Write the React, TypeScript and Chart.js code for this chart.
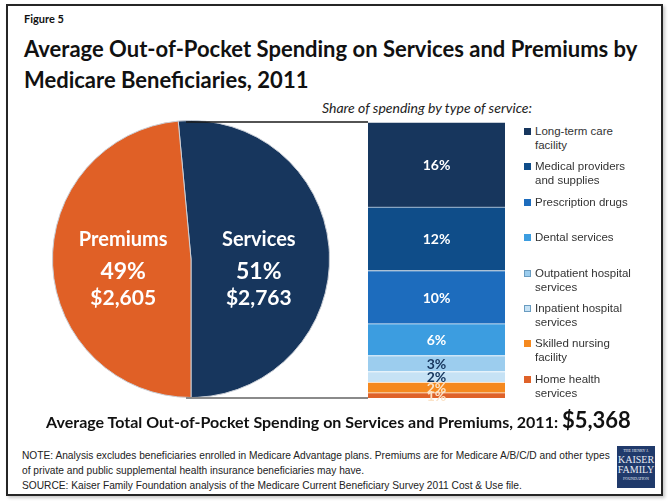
import React, { useEffect, useRef } from "react";
import { Chart, registerables } from "chart.js";

Chart.register(...registerables);

// ---- data ----
const pieLabels = ["Services", "Premiums"];
const pieDollars = [2763, 2605];
const piePercents = ["51%", "49%"];
const pieColors = ["#17365d", "#e06026"];

// stacked bar, listed top to bottom as in legend
const serviceTypes = [
  ["Long-term care", "facility"],
  ["Medical providers", "and supplies"],
  ["Prescription drugs"],
  ["Dental services"],
  ["Outpatient hospital", "services"],
  ["Inpatient hospital", "services"],
  ["Skilled nursing", "facility"],
  ["Home health", "services"],
];
const serviceShares = [16, 12, 10, 6, 3, 2, 2, 1];
const serviceColors = ["#17365d", "#0f4d89", "#1d6cbd", "#3c9de0", "#9ccdee", "#c6e2f5", "#f5891f", "#df6229"];
const labelColors = ["#ffffff", "#ffffff", "#ffffff", "#ffffff", "#17365d", "#17365d", "#fbe3c8", "#fbe3c8"];

const totalLabel = "$5,368";

const FONT = "Lato, 'Liberation Sans', sans-serif";

function PieChart() {
  const ref = useRef<HTMLCanvasElement>(null);
  useEffect(() => {
    const total = pieDollars.reduce((a, b) => a + b, 0);
    const servicesShare = pieDollars[0] / total;
    const rotation = -((servicesShare - 0.5) * 360);
    const labelPlugin = {
      id: "pieLabels",
      afterDatasetsDraw(chart: any) {
        const ctx = chart.ctx;
        const meta = chart.getDatasetMeta(0);
        meta.data.forEach((arc: any, i: number) => {
          const p = arc.getProps(["x", "y", "startAngle", "endAngle", "outerRadius"], true);
          const mid = (p.startAngle + p.endAngle) / 2;
          const cx = p.x + Math.cos(mid) * p.outerRadius * 0.49;
          const cy = p.y;
          ctx.save();
          ctx.fillStyle = "#ffffff";
          ctx.textAlign = "center";
          ctx.textBaseline = "alphabetic";
          ctx.font = `bold 20px ${FONT}`;
          ctx.fillText(pieLabels[i], cx, cy - 13);
          ctx.font = `bold 23px ${FONT}`;
          ctx.fillText(piePercents[i], cx, cy + 20);
          ctx.font = `bold 21px ${FONT}`;
          ctx.fillText("$" + pieDollars[i].toLocaleString("en-US"), cx, cy + 46);
          ctx.restore();
        });
      },
    };
    const chart = new Chart(ref.current!, {
      type: "pie",
      data: {
        labels: pieLabels,
        datasets: [
          {
            data: pieDollars,
            backgroundColor: pieColors,
            borderColor: "#c9ced6",
            borderWidth: 1,
          },
        ],
      },
      options: {
        animation: false,
        responsive: false,
        devicePixelRatio: 1,
        rotation,
        plugins: { legend: { display: false }, tooltip: { enabled: false } },
        layout: { padding: 0 },
      },
      plugins: [labelPlugin],
    });
    return () => chart.destroy();
  }, []);
  return (
    <canvas
      ref={ref}
      width={278}
      height={278}
      style={{ position: "absolute", left: 52, top: 120, width: 278, height: 278 }}
    />
  );
}

function BarChart() {
  const ref = useRef<HTMLCanvasElement>(null);
  useEffect(() => {
    const order = serviceShares.map((_, i) => i).reverse();
    const total = serviceShares.reduce((a, b) => a + b, 0);
    const barPlugin = {
      id: "barExtras",
      afterDatasetsDraw(chart: any) {
        const ctx = chart.ctx;
        // connector lines from the pie
        const bottomEl = chart.getDatasetMeta(0).data[0];
        const topEl = chart.getDatasetMeta(chart.data.datasets.length - 1).data[0];
        const bp = bottomEl.getProps(["x", "y", "base", "width"], true);
        const tp = topEl.getProps(["x", "y", "base", "width"], true);
        const left = tp.x - tp.width / 2;
        ctx.save();
        ctx.strokeStyle = "#1a1a1a";
        ctx.lineWidth = 1.5;
        ctx.beginPath();
        ctx.moveTo(0, tp.y);
        ctx.lineTo(left, tp.y);
        ctx.stroke();
        ctx.strokeStyle = "#8a8a8a";
        ctx.lineWidth = 2;
        ctx.beginPath();
        ctx.moveTo(0, bp.base);
        ctx.lineTo(left, bp.base);
        ctx.stroke();
        // labels
        ctx.textAlign = "center";
        ctx.textBaseline = "middle";
        ctx.font = `bold 14px ${FONT}`;
        chart.data.datasets.forEach((ds: any, di: number) => {
          const el = chart.getDatasetMeta(di).data[0];
          const p = el.getProps(["x", "y", "base"], true);
          const idx = order[di];
          ctx.fillStyle = labelColors[idx];
          ctx.fillText(serviceShares[idx] + "%", p.x, (p.y + p.base) / 2 + 1);
        });
        ctx.restore();
      },
    };
    const chart = new Chart(ref.current!, {
      type: "bar",
      data: {
        labels: ["Services"],
        datasets: order.map((i) => ({
          label: serviceTypes[i].join(" "),
          data: [serviceShares[i]],
          backgroundColor: serviceColors[i],
          borderColor: "rgba(255,255,255,0.55)",
          borderWidth: { top: 1, bottom: 0, left: 0, right: 0 },
          borderSkipped: false,
          barPercentage: 1,
          categoryPercentage: 1,
        })),
      },
      options: {
        animation: false,
        responsive: false,
        devicePixelRatio: 1,
        layout: { padding: { left: 182, right: 11, top: 10, bottom: 10 } },
        scales: {
          x: { display: false, stacked: true },
          y: { display: false, stacked: true, min: 0, max: total },
        },
        plugins: { legend: { display: false }, tooltip: { enabled: false } },
      },
      plugins: [barPlugin],
    });
    return () => chart.destroy();
  }, []);
  return (
    <canvas
      ref={ref}
      width={330}
      height={296}
      style={{ position: "absolute", left: 186, top: 112, width: 330, height: 296 }}
    />
  );
}

export default function App() {
  return (
    <div
      style={{
        position: "absolute",
        left: 0,
        top: 0,
        width: 670,
        height: 504,
        background: "#ffffff",
        overflow: "hidden",
        fontFamily: FONT,
      }}
    >
      <div
        style={{
          position: "absolute",
          left: 6,
          top: 4,
          width: 657,
          height: 492,
          border: "2px solid #262626",
          boxSizing: "border-box",
          boxShadow: "2px 2px 3px #c8c8c8",
        }}
      />
      <div style={{ position: "absolute", left: 24, top: 12, fontSize: 11, fontWeight: 700, color: "#111" }}>
        Figure 5
      </div>
      <div
        style={{
          position: "absolute",
          left: 24,
          top: 33,
          fontSize: 22,
          fontWeight: 700,
          lineHeight: "31px",
          color: "#111",
          width: 640,
        }}
      >
        Average Out-of-Pocket Spending on Services and Premiums by
        <br />
        Medicare Beneficiaries, 2011
      </div>
      <div
        style={{
          position: "absolute",
          left: 322,
          top: 99,
          fontSize: 14,
          fontStyle: "italic",
          color: "#222",
          whiteSpace: "nowrap",
        }}
      >
        Share of spending by type of service:
      </div>
      <PieChart />
      <BarChart />
      {serviceTypes.map((lines, i) => (
        <div
          key={i}
          style={{
            position: "absolute",
            left: 524,
            top: 124 + i * 35.4,
            display: "flex",
            alignItems: "flex-start",
            fontFamily: "'Liberation Sans', Arial, sans-serif",
            fontSize: 11.5,
            lineHeight: "14px",
            color: "#333",
          }}
        >
          <div
            style={{
              width: 7,
              height: 7,
              marginTop: 4,
              marginRight: 4,
              background: serviceColors[i],
              border: i === 4 || i === 5 ? "0.5px solid #6a9cc0" : "none",
              boxSizing: "border-box",
              flex: "none",
            }}
          />
          <div style={{ whiteSpace: "nowrap" }}>
            {lines.map((l, j) => (
              <div key={j}>{l}</div>
            ))}
          </div>
        </div>
      ))}
      <div
        style={{
          position: "absolute",
          left: 10,
          width: 657,
          top: 406,
          textAlign: "center",
          fontWeight: 700,
          color: "#111",
          whiteSpace: "nowrap",
        }}
      >
        <span style={{ fontSize: 16 }}>
          Average Total Out-of-Pocket Spending on Services and Premiums, 2011:{" "}
        </span>
        <span style={{ fontSize: 22 }}>{totalLabel}</span>
      </div>
      <div
        style={{
          position: "absolute",
          left: 22,
          top: 448,
          fontFamily: "'Liberation Sans', Arial, sans-serif",
          fontSize: 10.2,
          lineHeight: "15px",
          color: "#222",
          whiteSpace: "nowrap",
        }}
      >
        <div>
          NOTE: Analysis excludes beneficiaries enrolled in Medicare Advantage plans. Premiums are for Medicare A/B/C/D and other types
        </div>
        <div>of private and public supplemental health insurance beneficiaries may have.</div>
        <div>SOURCE: Kaiser Family Foundation analysis of the Medicare Current Beneficiary Survey 2011 Cost &amp; Use file.</div>
      </div>
      <div
        style={{
          position: "absolute",
          left: 617,
          top: 446,
          width: 38,
          height: 42,
          background: "#203a6b",
          color: "#e8ecf4",
          fontFamily: "'Liberation Serif', serif",
          textAlign: "center",
          lineHeight: 1,
          paddingTop: 3,
          boxSizing: "border-box",
        }}
      >
        <div style={{ fontSize: 4 }}>THE HENRY J.</div>
        <div style={{ fontSize: 10, marginTop: 2 }}>KAISER</div>
        <div style={{ fontSize: 10 }}>FAMILY</div>
        <div style={{ fontSize: 4, marginTop: 2 }}>FOUNDATION</div>
      </div>
    </div>
  );
}
